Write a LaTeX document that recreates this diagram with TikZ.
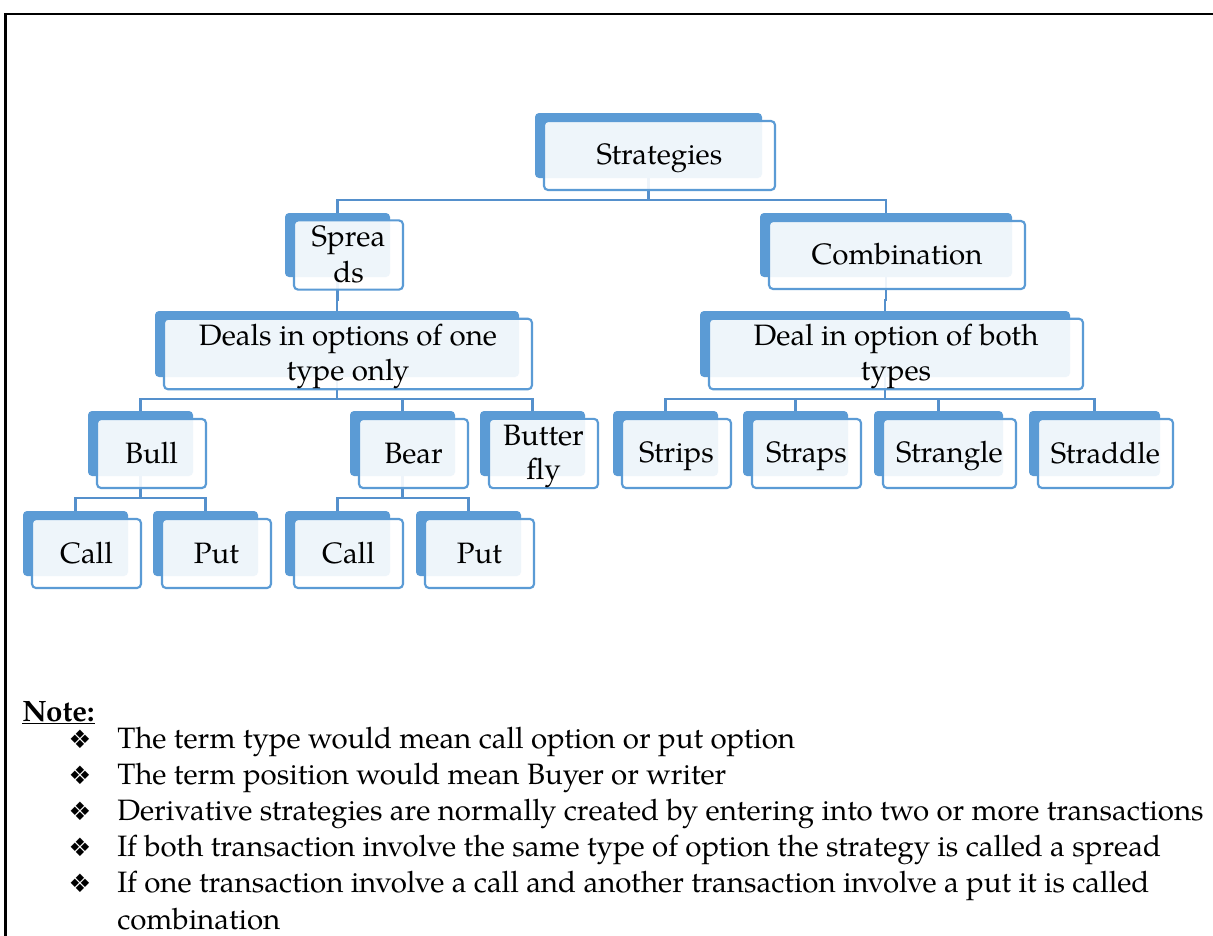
\documentclass[tikz,border=0pt]{standalone}
\usepackage{fontspec}
\setmainfont{texgyrepagella}[Extension=.otf, UprightFont=*-regular, BoldFont=*-bold, ItalicFont=*-italic, BoldItalicFont=*-bolditalic]
\newfontfamily\symfont{DejaVu Sans}
\usetikzlibrary{calc}
\definecolor{accent}{HTML}{5B9BD5}
\definecolor{linkblue}{HTML}{5590CC}
\pgfdeclarelayer{bg}
\pgfsetlayers{bg,main}
\newcommand\boxfont{\fontsize{22.1pt}{24.75pt}\selectfont}
\newcommand\notefont{\fontsize{22.1pt}{26pt}\selectfont}
% strut that keeps card labels on a common baseline
\newcommand\cardstrut{\rule[-5.3pt]{0pt}{25pt}}
\tikzset{
  back/.style={fill=accent, rounded corners=3pt, inner sep=0pt},
  front/.style={draw=accent, line width=1.6pt, fill=white, fill opacity=0.9,
    text opacity=1, rounded corners=3pt, inner sep=0pt, align=center, font=\boxfont},
  sz/.style 2 args={minimum width=(#1)*0.75pt, minimum height=(#2)*0.75pt},
  link/.style={draw=linkblue, line width=1.6pt},
  frame/.style={draw=black, line width=1.6pt},
  notetext/.style={anchor=base west, inner sep=0pt, font=\notefont},
  bullet/.style={anchor=base, inner sep=0pt, font=\symfont\fontsize{19pt}{21pt}\selectfont},
}
% a shaded box: solid back plate with a lighter card laid over it
\newcommand\tbox[6]{%
  \begin{pgfonlayer}{bg}\node[back, sz={#4}{#5}] (#1-b) at (#2,#3) {};\end{pgfonlayer}
  \node[front, sz={#4+4}{#5+4}] (#1) at (#2+11,#3+10) {\cardstrut#6\cardstrut};}
% elbow connector from a parent plate to a child plate through a bar
\newcommand\link[3]{%
  \begin{pgfonlayer}{bg}\draw[link] (#1-b.south) |- (#2-b.north |- #3) -- (#2-b.north);\end{pgfonlayer}}
\begin{document}
\begin{tikzpicture}[x=0.75pt,y=-0.75pt]
\useasboundingbox (0,0) rectangle (1213,935);
\begin{pgfonlayer}{bg}\fill[white] (0,0) rectangle (1213,935);\end{pgfonlayer}

% page frame
\coordinate (fbl) at (5.5,940);
\coordinate (ftl) at (5.5,14);
\coordinate (ftr) at (1220,14);
\draw[frame] (fbl) -- (ftl) -- (ftr);

% tree
\tbox{strat}{648.5}{145.5}{227}{65}{Strategies}
\tbox{spreads}{337.5}{245}{105}{64}{Sprea\\ds}
\tbox{comb}{886}{245}{252}{64}{Combination}
\tbox{one}{337}{344}{364}{66}{Deals in options of one\\type only}
\tbox{both}{885}{344}{370}{66}{Deal in option of both\\types}
\tbox{bull}{140.5}{443.5}{105}{65}{Bull}
\tbox{bear}{402.5}{443.5}{105}{65}{Bear}
\tbox{butter}{532.5}{443.5}{105}{65}{Butter\\fly}
\tbox{strips}{665.5}{443.5}{105}{65}{Strips}
\tbox{straps}{795.5}{443.5}{105}{65}{Straps}
\tbox{strangle}{938.5}{443.5}{129}{65}{Strangle}
\tbox{straddle}{1094.5}{443.5}{131}{65}{Straddle}
\tbox{callA}{75.5}{543.5}{105}{65}{Call}
\tbox{putA}{205.5}{543.5}{105}{65}{Put}
\tbox{callB}{337.5}{543.5}{105}{65}{Call}
\tbox{putB}{468.5}{543.5}{105}{65}{Put}

\coordinate (barTop) at (0,200);
\coordinate (barMid) at (0,300);
\coordinate (barLow) at (0,399);
\coordinate (barLeaf) at (0,498);

\link{strat}{spreads}{barTop}
\link{strat}{comb}{barTop}
\link{spreads}{one}{barMid}
\link{comb}{both}{barMid}
\link{one}{bull}{barLow}
\link{one}{bear}{barLow}
\link{one}{butter}{barLow}
\link{both}{strips}{barLow}
\link{both}{straps}{barLow}
\link{both}{strangle}{barLow}
\link{both}{straddle}{barLow}
\link{bull}{callA}{barLeaf}
\link{bull}{putA}{barLeaf}
\link{bear}{callB}{barLeaf}
\link{bear}{putB}{barLeaf}

% notes
\node[notetext, font=\notefont\bfseries] (note) at (22,721) {\underline{Note:}};
\node[bullet] (b1) at (80,748) {❖};
\node[notetext] (t1) at (117,748) {The term type would mean call option or put option};
\node[bullet] (b2) at (80,784) {❖};
\node[notetext] (t2) at (117,784) {The term position would mean Buyer or writer};
\node[bullet] (b3) at (80,820) {❖};
\node[notetext] (t3) at (117,820) {Derivative strategies are normally created by entering into two or more transactions};
\node[bullet] (b4) at (80,856) {❖};
\node[notetext] (t4) at (117,856) {If both transaction involve the same type of option the strategy is called a spread};
\node[bullet] (b5) at (80,892) {❖};
\node[notetext] (t5) at (117,892) {If one transaction involve a call and another transaction involve a put it is called};
\node[notetext] (t6) at (117,929) {combination};
\end{tikzpicture}
\end{document}
